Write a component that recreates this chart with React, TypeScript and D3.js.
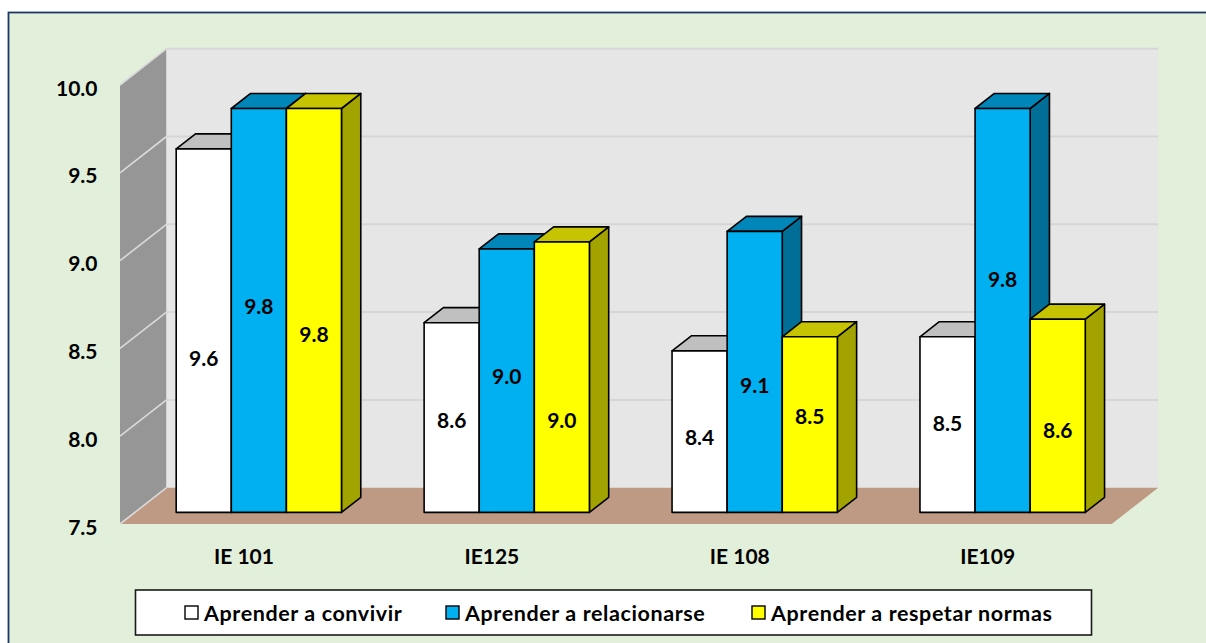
import React from "react";
import * as d3 from "d3";

// ---- data ----
const categories = ["IE 101", "IE125", "IE 108", "IE109"];
const seriesNames = ["Aprender a convivir", "Aprender a relacionarse", "Aprender a respetar normas"];
const convivir = [9.57, 8.58, 8.42, 8.5];
const relacionarse = [9.8, 9.0, 9.1, 9.8];
const normas = [9.8, 9.04, 8.5, 8.6];
// where each value label sits (in axis units, on the bar's front face)
const labelAtConvivir = [8.38, 8.03, 7.93, 8.01];
const labelAtRelacionarse = [8.68, 8.28, 8.23, 8.83];
const labelAtNormas = [8.52, 8.03, 8.05, 7.97];
const yTicks = [7.5, 8.0, 8.5, 9.0, 9.5, 10.0];

const seriesValues = [convivir, relacionarse, normas];
const seriesLabelAt = [labelAtConvivir, labelAtRelacionarse, labelAtNormas];

const seriesColors = [
  { front: "#FFFFFF", top: "#C0C0C0", side: "#A6A6A6" },
  { front: "#00B0F0", top: "#0086B8", side: "#006E96" },
  { front: "#FFFF00", top: "#C6C300", side: "#A3A300" },
];

const FONT = "Lato, 'Open Sans', 'Liberation Sans', sans-serif";

export default function App() {
  const W = 1206;
  const H = 643;
  const x0 = 120;
  const x1 = 1111.7;
  const DX = 46.5; // full depth offset
  const DY = 36.3;
  const bd0 = 0.32; // bar front depth fraction
  const bd1 = 0.735; // bar back depth fraction

  const y = d3.scaleLinear().domain([7.5, 10]).range([524, 85]);
  const xBand = d3.scaleBand<string>().domain(categories).range([x0, x1]).paddingInner(0).paddingOuter(0);
  const xInner = d3
    .scaleBand<string>()
    .domain(seriesNames)
    .range([0, xBand.bandwidth()])
    .paddingInner(0)
    .paddingOuter(0.75);

  const P = (x: number, yy: number, d: number): [number, number] => [x + d * DX, yy - d * DY];
  const poly = (pts: [number, number][]) => pts.map((p) => p.join(",")).join(" ");

  const yMin = y(7.5);
  const yMax = y(10);

  const bars: JSX.Element[] = [];
  const labels: JSX.Element[] = [];
  categories.forEach((cat, ci) => {
    seriesNames.forEach((s, si) => {
      const v = seriesValues[si][ci];
      const xl = (xBand(cat) as number) + (xInner(s) as number);
      const w = xInner.bandwidth();
      const xr = xl + w;
      const yt = y(v);
      const c = seriesColors[si];
      const ftl = P(xl, yt, bd0);
      const ftr = P(xr, yt, bd0);
      const fbr = P(xr, yMin, bd0);
      const fbl = P(xl, yMin, bd0);
      const btl = P(xl, yt, bd1);
      const btr = P(xr, yt, bd1);
      const bbr = P(xr, yMin, bd1);
      bars.push(
        <g key={`b-${ci}-${si}`} stroke="#000" strokeWidth={1.6} strokeLinejoin="round">
          <polygon points={poly([ftr, btr, bbr, fbr])} fill={c.side} />
          <polygon points={poly([ftl, ftr, btr, btl])} fill={c.top} />
          <polygon points={poly([ftl, ftr, fbr, fbl])} fill={c.front} />
        </g>
      );
      const lp = P(xl + w / 2, y(seriesLabelAt[si][ci]), bd0);
      labels.push(
        <text
          key={`l-${ci}-${si}`}
          x={lp[0]}
          y={lp[1]}
          textAnchor="middle"
          dominantBaseline="central"
          fontFamily={FONT}
          fontWeight={700}
          fontSize={21}
          fill="#000"
        >
          {v.toFixed(1)}
        </text>
      );
    });
  });

  const legendMarkers = [185, 446, 752];

  return (
    <svg
      width={W}
      height={H}
      style={{ position: "absolute", left: 0, top: 0, background: "#FFFFFF" }}
      xmlns="http://www.w3.org/2000/svg"
    >
      <rect x={8.5} y={12.5} width={1300} height={700} fill="#E2EFDA" stroke="#1F3864" strokeWidth={1.8} />

      {/* left wall */}
      <polygon points={poly([P(x0, yMin, 0), P(x0, yMax, 0), P(x0, yMax, 1), P(x0, yMin, 1)])} fill="#969696" />
      {/* back wall */}
      <polygon points={poly([P(x0, yMax, 1), P(x1, yMax, 1), P(x1, yMin, 1), P(x0, yMin, 1)])} fill="#E6E6E6" />
      {/* floor */}
      <polygon points={poly([P(x0, yMin, 0), P(x1, yMin, 0), P(x1, yMin, 1), P(x0, yMin, 1)])} fill="#BE9A84" />

      {/* gridlines */}
      {yTicks.map((t) => {
        const a = P(x0, y(t), 0);
        const b = P(x0, y(t), 1);
        const c = P(x1, y(t), 1);
        return (
          <g key={`g-${t}`}>
            <line x1={a[0]} y1={a[1]} x2={b[0]} y2={b[1]} stroke="#DADADA" strokeWidth={1.6} />
            {t > 7.5 && <line x1={b[0]} y1={b[1]} x2={c[0]} y2={c[1]} stroke="#D6D6D6" strokeWidth={2} />}
          </g>
        );
      })}

      {bars}
      {labels}

      {/* y axis labels */}
      {yTicks.map((t) => (
        <text
          key={`yt-${t}`}
          x={97.5}
          y={y(t) + 2}
          textAnchor="end"
          dominantBaseline="central"
          fontFamily={FONT}
          fontWeight={700}
          fontSize={21}
          fill="#000"
        >
          {t.toFixed(1)}
        </text>
      ))}

      {/* category labels */}
      {categories.map((cat) => (
        <text
          key={`c-${cat}`}
          x={(xBand(cat) as number) + xBand.bandwidth() / 2}
          y={555.5}
          textAnchor="middle"
          dominantBaseline="central"
          fontFamily={FONT}
          fontWeight={700}
          fontSize={21}
          fill="#000"
        >
          {cat}
        </text>
      ))}

      {/* legend */}
      <rect x={135.5} y={590} width={956} height={45} fill="#FFFFFF" stroke="#1A1A1A" strokeWidth={1.6} />
      {seriesNames.map((s, i) => (
        <g key={`lg-${i}`}>
          <rect
            x={legendMarkers[i]}
            y={606}
            width={13}
            height={13}
            fill={seriesColors[i].front}
            stroke="#000"
            strokeWidth={1.4}
          />
          <text
            x={legendMarkers[i] + 19}
            y={612.5}
            dominantBaseline="central"
            fontFamily={FONT}
            fontWeight={700}
            fontSize={21.5}
            letterSpacing={0.6}
            fill="#000"
          >
            {s}
          </text>
        </g>
      ))}
    </svg>
  );
}
